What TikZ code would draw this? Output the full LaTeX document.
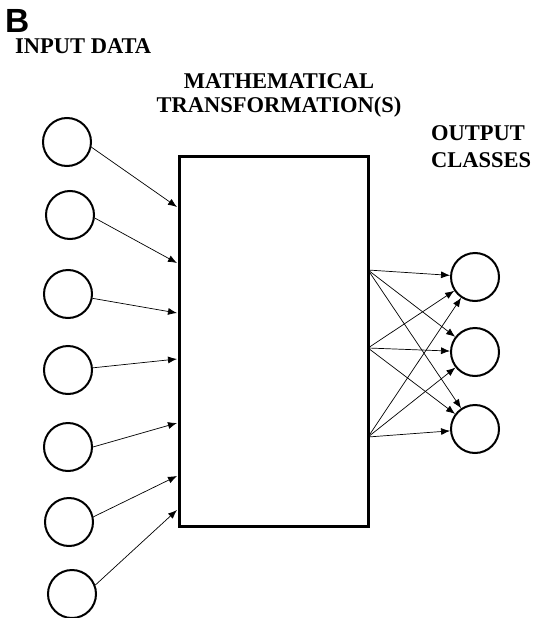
\documentclass[tikz,border=0pt]{standalone}
\usepackage{fontspec}
\setmainfont{Liberation Serif}
\setsansfont{Liberation Sans}
\usetikzlibrary{
    arrows.meta,
    positioning
}
\tikzset{
  unit/.style     = {circle, draw, line width=2pt, minimum size=48pt,
                     inner sep=0pt},
  transbox/.style = {draw, line width=3pt, minimum width=189pt,
                     minimum height=370pt, inner sep=0pt},
  arr/.style      = {-{Latex[length=9pt,width=7pt]}, line width=0.7pt},
  heading/.style  = {font=\bfseries\fontsize{22.5}{24}\selectfont, inner sep=0pt}
}

\begin{document}
\begin{tikzpicture}[x=1pt, y=-1pt]
\useasboundingbox (0,0) rectangle (538,618);
% labels
\node[anchor=base west, inner sep=0pt, font=\sffamily\bfseries\fontsize{33.5}{34}\selectfont] (tag) at (5,33) {B};
\node[heading, anchor=base west] (inlbl) at (15,53) {INPUT DATA};
\node[heading, anchor=north, align=center] (trlbl) at (279,73) {MATHEMATICAL\\TRANSFORMATION(S)};
\node[heading, anchor=base west, align=left, font=\bfseries\fontsize{22.5}{27}\selectfont] (outlbl) at (431,167) {OUTPUT\\CLASSES};
% transformation box
\node[transbox] (tbox) at (273.5,341) {};
% input units
\foreach \i/\cx/\cy in {1/67/142, 2/70/215, 3/68/294, 4/68/370, 5/68/447, 6/69/522, 7/72/594}
  \node[unit] (in\i) at (\cx,\cy) {};
\foreach \i/\a/\ey in {1/-12/207, 2/-7/263, 3/-10/313, 4/5/359, 5/0/423, 6/12/476, 7/21/510} {
  \coordinate (e\i) at (177,\ey);
  \draw[arr] (in\i.\a) -- (e\i);
}
% output classes
\foreach \j/\cy in {1/277, 2/352, 3/429}
  \node[unit] (out\j) at (475,\cy) {};
\foreach \k/\sy in {1/270, 2/348, 3/437}
  \coordinate (s\k) at (368,\sy);
\foreach \k in {1,2,3}
  \foreach \j in {1,2,3}
    \draw[arr] (s\k) -- (out\j);
\end{tikzpicture}
\end{document}
